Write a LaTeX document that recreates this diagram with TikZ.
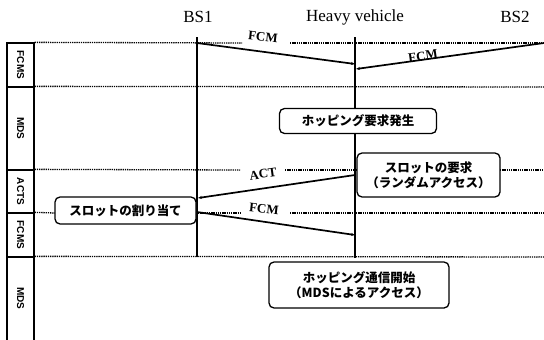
\documentclass[tikz,border=0pt]{standalone}
\usepackage{fontspec}
\setmainfont{Liberation Serif}
\newfontfamily\jp{Noto Sans CJK JP}
\newfontfamily\lsans{Liberation Sans}
\usetikzlibrary{arrows.meta}
\begin{document}
\begin{tikzpicture}[x=1pt,y=-1pt,
 dotline/.style={line width=1.3pt, dash pattern=on 1.3pt off 0.9pt},
 life/.style={line width=2pt},
 msg/.style={line width=1.7pt, -{Stealth[length=4pt,width=3pt]}},
 lbl/.style={font=\bfseries\fontsize{13}{13}\selectfont, inner sep=1pt},
 jbox/.style={draw, line width=1.3pt, rounded corners=5pt, fill=white, font=\jp\bfseries\fontsize{12.5}{15}\selectfont, align=center, inner sep=0pt},
 colbox/.style={draw, line width=1.3pt, minimum width=27pt, inner sep=0pt},
 coltext/.style={font=\lsans\bfseries\fontsize{10}{10}\selectfont, rotate=-90, inner sep=0pt},
 head/.style={font=\fontsize{17}{17}\selectfont}
]
\useasboundingbox (0,0) rectangle (544,340);
% headers
\node[head] (hbs1) at (198,17) {BS1};
\node[head] (hhv) at (355,17) {Heavy vehicle};
\node[head] (hbs2) at (515,17) {BS2};
% left column
\node[colbox, minimum height=44pt] (c1) at (20.5,65) {};
\node[colbox, minimum height=83pt] (c2) at (20.5,128.5) {};
\node[colbox, minimum height=43pt] (c3) at (20.5,191.5) {};
\node[colbox, minimum height=44pt] (c4) at (20.5,235) {};
\node[colbox, minimum height=88pt] (c5) at (20.5,301) {};
\node[coltext] (t1) at (c1) {FCMS};
\node[coltext] (t2) at (c2) {MDS};
\node[coltext] (t3) at (c3) {ACTS};
\node[coltext] (t4) at (c4) {FCMS};
\node[coltext] (t5) at (20.5,298.5) {MDS};
% coordinates
\coordinate (bs1t) at (197,37);
\coordinate (bs1b) at (197,257);
\coordinate (hvt) at (355,37);
\coordinate (hvb) at (355,258);
\coordinate (m1s) at (197,43);
\coordinate (m1e) at (355,64);
\coordinate (m2s) at (544,43);
\coordinate (m2e) at (356,69);
\coordinate (m3s) at (355,175);
\coordinate (m3e) at (198,198);
\coordinate (m4s) at (197,212);
\coordinate (m4e) at (355,235);
% dotted lines
\coordinate (d1a) at (242,43);
\coordinate (d1b) at (290,43);
\coordinate (d2e) at (544,87);
\coordinate (d3a) at (240,170);
\coordinate (d3b) at (285,170);
\coordinate (d3c) at (357,170);
\coordinate (d3d) at (500,170);
\coordinate (d3e) at (544,170);
\coordinate (d4a) at (55,213);
\coordinate (d4b) at (198,213);
\coordinate (d4c) at (240,213);
\coordinate (d4d) at (290,213);
\coordinate (d4e) at (544,213);
\coordinate (d5e) at (544,257);
\draw[dotline] (c1.north east) -- (d1a);
\draw[dotline] (d1b) -- (m2s);
\draw[dotline] (c2.north east) -- (d2e);
\draw[dotline] (c3.north east) -- (d3a);
\draw[dotline] (d3b) -- (d3c);
\draw[dotline] (d3d) -- (d3e);
\draw[dotline] (c4.north east) -- (d4a);
\draw[dotline] (d4b) -- (d4c);
\draw[dotline] (d4d) -- (d4e);
\draw[dotline] (c5.north east) -- (d5e);
% lifelines
\draw[life] (bs1t) -- (bs1b);
\draw[life] (hvt) -- (hvb);
% messages
\draw[msg] (m1s) -- (m1e);
\draw[msg] (m2s) -- (m2e);
\draw[msg] (m3s) -- (m3e);
\draw[msg] (m4s) -- (m4e);
\node[lbl, rotate=-6] (l1) at (263,37) {FCM};
\node[lbl, rotate=8] (l2) at (423,56) {FCM};
\node[lbl, rotate=8] (l3) at (263,174) {ACT};
\node[lbl, rotate=-6] (l4) at (264,209) {FCM};
% boxes
\node[jbox, minimum width=157pt, minimum height=25pt] (b1) at (358,121) {ホッピング要求発生};
\node[jbox, minimum width=143pt, minimum height=44pt] (b2) at (428.5,175) {スロットの要求\\（ランダムアクセス）};
\node[jbox, minimum width=141pt, minimum height=27pt] (b3) at (125.5,210.5) {スロットの割り当て};
\node[jbox, minimum width=180pt, minimum height=46pt] (b4) at (359,285) {ホッピング通信開始\\（MDSによるアクセス）};
\end{tikzpicture}
\end{document}
